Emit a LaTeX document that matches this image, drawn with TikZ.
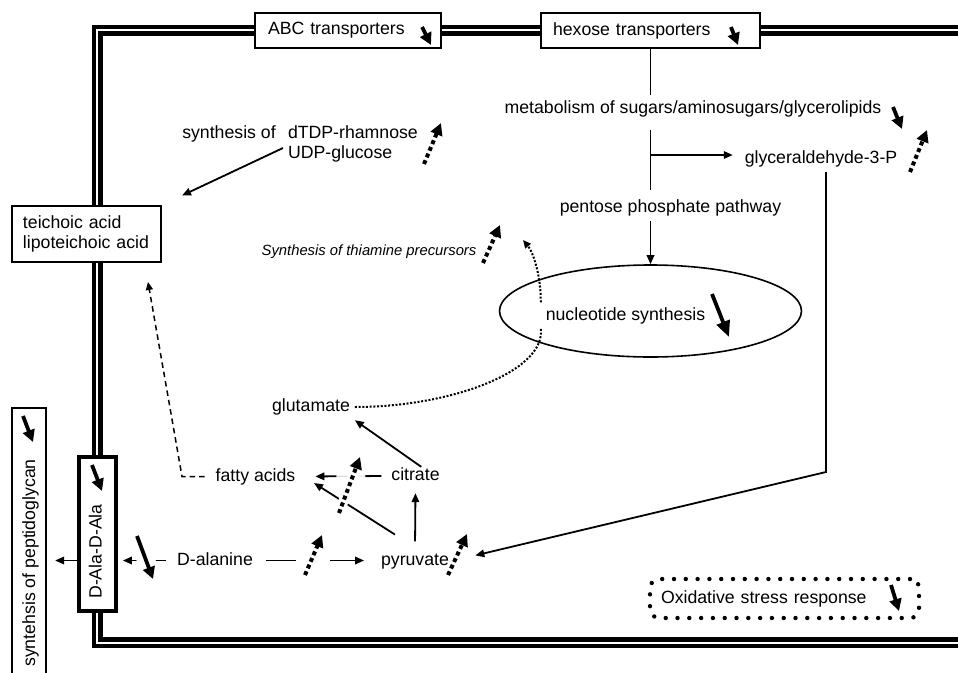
\documentclass[tikz,border=0pt]{standalone}
\usepackage{fontspec}
\setmainfont{Liberation Sans}
\usetikzlibrary{arrows.meta,shapes.geometric}
\newcommand{\dfont}{\fontsize{17.7}{20}\selectfont}
\newcommand{\ifontx}{\fontsize{14.8}{18}\selectfont\itshape}
\begin{document}
\begin{tikzpicture}[x=1pt,y=-1pt,
  txt/.style={font=\dfont, inner sep=0pt, outer sep=5pt, text height=12.7pt, text depth=3.7pt},
  box/.style={draw, fill=white, line width=2.2pt, font=\dfont, inner ysep=0pt},
  arr/.style={line width=1.8pt, -{Triangle[length=9pt,width=7.5pt]}},
  ln/.style={line width=1.8pt},
  downarr/.style={line width=3.8pt, -{Triangle[length=12pt,width=12pt]}},
  dotup/.style={line width=4pt, dash pattern=on 4pt off 3.2pt, -{Triangle[length=12pt,width=12pt]}},
  dotl/.style={line width=2pt, dash pattern=on 2pt off 1.7pt},
  dashl/.style={line width=1.5pt, dash pattern=on 5.5pt off 4pt},
  halo/.style={preaction={draw=white, solid, line width=#1, -}},
  halo/.default=10pt,
  frame/.style={draw, line width=4.6pt, double distance=2pt, double=white},
]
\clip (0,0) rectangle (958,672);
\fill[white] (0,0) rectangle (958,672);
% cell frame
\draw[frame] (975,30.3) -- (97.4,30.3) -- (97.4,642.5) -- (975,642.5);

% boxes on the frame
\node[box, minimum width=186pt, minimum height=35pt, text width=160pt, inner xsep=13pt, align=left] (abc) at (348,30.5) {ABC transporters};
\node[box, minimum width=219pt, minimum height=35pt, text width=195pt, inner xsep=12pt, align=left] (hex) at (650.5,30.5) {hexose transporters};
\node[box, minimum width=149pt, minimum height=56pt, text width=127pt, inner xsep=11pt, align=left] (teich) at (86.5,234) {teichoic acid\\lipoteichoic acid};
\node[box, line width=3.8pt, minimum width=37pt, minimum height=154pt] (dd) at (97.5,534) {};
\node[txt, rotate=90] (ddt) at (97,551.5) {D-Ala-D-Ala};
\node[box, minimum width=34pt, minimum height=300pt] (pepbox) at (29,558) {};
\node[txt, rotate=90] (pep) at (30.5,563) {syntehsis of peptidoglycan};
\node[draw, line width=4.4pt, dash pattern=on 0pt off 11.8pt, line cap=round, rounded corners=9pt, minimum width=269pt, minimum height=39pt, text width=247pt, inner xsep=11pt, inner ysep=0pt, align=left, font=\dfont] (oxid) at (784.5,598.5) {Oxidative stress response};

% text nodes
\node[txt] (meta) at (693,108.5) {metabolism of sugars/aminosugars/glycerolipids};
\node[txt] (glyc) at (821,159) {glyceraldehyde-3-P};
\node[txt] (pent) at (670.5,208) {pentose phosphate pathway};
\node[draw, ellipse, line width=1.6pt, minimum width=302pt, minimum height=92pt] (nucl) at (650.5,311) {};
\node[txt] (nuct) at (625.5,315.5) {nucleotide synthesis};
\node[txt, font=\ifontx, text height=10.6pt, text depth=3.1pt] (thia) at (369,252) {Synthesis of thiamine precursors};
\node[txt] (syn) at (229,133.5) {synthesis of};
\node[txt, anchor=west] (rh) at (283,133.5) {dTDP-rhamnose};
\node[txt, anchor=west] (ug) at (283,154) {UDP-glucose};
\node[txt] (glut) at (311,407) {glutamate};
\node[txt] (fatty) at (255.5,476.5) {fatty acids};
\node[txt] (citr) at (415.5,476) {citrate};
\node[txt] (pyr) at (415,560.5) {pyruvate};
\node[txt] (dala) at (215,560.5) {D-alanine};

% free ends
\coordinate (branch) at (650.5,155);
\coordinate (gbend) at (826,472);
\coordinate (fbend) at (182,0);
\coordinate (teichin) at (148,282);
\coordinate (fattyin) at (314,483);
\coordinate (tht) at (523,240);

% hexose pathway
\draw[ln] (hex.south) -- (hex.south |- meta.north);
\draw[ln, shorten <=8pt, shorten >=4.8pt] (hex.south |- meta.south) -- (hex.south |- pent.north);
\draw[arr] (branch) -- ([xshift=-7pt]glyc.west |- branch);
\draw[arr] (hex.south |- pent.south) -- (nucl.north);
\draw[arr, shorten >=22pt] (gbend |- glyc.south) -- (gbend) -- (pyr.east);

% cell wall precursors
\draw[arr, shorten >=22pt] ([yshift=6pt]ug.west) -- (teich.north east);
\draw[dashl, -{Triangle[length=8pt,width=7pt]}, shorten <=6pt] (fatty.west) -- (fatty.west -| fbend) -- (teichin);

% dotted links from nucleotide synthesis
\draw[dotl, -{Triangle[length=8pt,width=7pt]}] (nuct.north west) .. controls +(0,-28) and +(10,12) .. (tht);
\draw[dotl] (glut.east) .. controls +(95,0) and +(5,43) .. (nuct.south west);

% central metabolism
\draw[arr, shorten <=6pt, shorten >=4pt] (pyr.north) -- (citr.south);
\draw[arr, shorten <=-7pt] (citr.north) -- (glut.south east);
\draw[line width=0.6pt, gray!45, shorten <=5pt, shorten >=20pt] (citr.west) -- (fatty.east);
\draw[arr, dash pattern=on 16pt off 29pt on 60pt, shorten <=5pt, shorten >=15pt] (citr.west) -- (fatty.east);
\draw[arr, shorten <=23.7pt] (pyr.north) -- (fattyin);
\draw[arr, dash pattern=on 30pt off 34pt on 60pt, shorten <=8pt, shorten >=12pt] (dala.east) -- (pyr.west);
\draw[arr, shorten <=6pt, shorten >=5pt] (dala.west) -- (dala.west -| dd.east);
\draw[arr, shorten >=8pt] (dd.west |- dala.west) -- (pepbox.east |- dala.west);

% dotted (up) indicator arrows
\draw[dotup] (424,164) -- (441,123);
\draw[dotup] (910,172) -- (927,130);
\draw[dotup] (483,263) -- (500,225);
\draw[dotup, halo] (339,513) -- (360,457);
\draw[dotup] (305,575) -- (322,535);
\draw[dotup] (448,575) -- (467,534);

% solid (down) indicator arrows
\draw[downarr] (422,27) -- (431,45);
\draw[downarr] (731,27) -- (738,45);
\draw[downarr] (893,107) -- (902,129);
\draw[downarr, -{Triangle[length=16pt,width=13.5pt]}] (712,294) -- (729,337);
\draw[downarr] (92,465) -- (102,491);
\draw[downarr] (23,416) -- (33,442);
\draw[downarr, halo=18pt] (137,536) -- (153,579);
\draw[downarr] (891,585) -- (899,611);
\end{tikzpicture}
\end{document}
